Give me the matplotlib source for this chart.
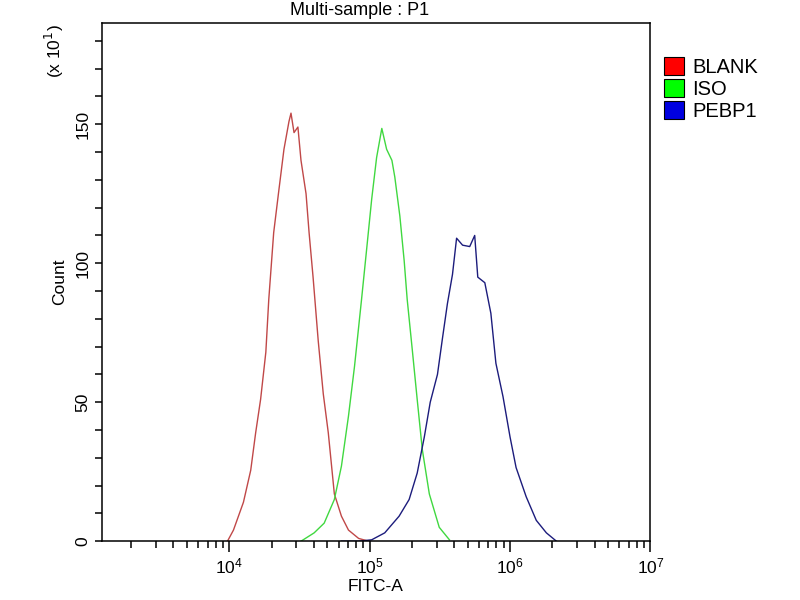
import matplotlib
matplotlib.use("Agg")
import matplotlib.pyplot as plt
from matplotlib.patches import Patch
from matplotlib.ticker import LogLocator, MultipleLocator, NullFormatter

plt.rcParams["font.family"] = ["Liberation Sans", "DejaVu Sans"]

# FITC-A intensity vs count (axis in units of x10^1)
blank_x = [9700, 10700, 12600, 14200, 15400, 16700, 18200, 19100, 20700, 22500,
           24500, 26600, 27500, 28900, 30800, 32400, 35200, 37000, 39500, 43000,
           46700, 50700, 56000, 62900, 70600, 83400, 98400]
blank_y = [0, 4, 14, 25.5, 39, 51, 68, 87, 111, 126,
           141, 151, 154, 147, 149, 137, 125, 111, 95, 72,
           53, 39, 17, 9, 4, 1, 0]

iso_x = [32400, 40200, 47400, 56000, 62900, 70600, 78000, 87500, 95100, 103300,
         112000, 122000, 132000, 144000, 151000, 164000, 176000, 185000, 201000,
         218000, 237000, 266000, 313000, 370000]
iso_y = [0, 3, 6.5, 15, 27, 45, 63, 87, 105, 123,
         138, 148.5, 141, 137, 131, 117, 101, 87, 69,
         51, 33, 17, 5, 0.5]

pebp1_x = [62900, 83400, 103300, 128000, 162000, 191000, 218000, 245000, 270000,
           304000, 330000, 358000, 389000, 416000, 459000, 516000, 560000, 589000,
           661000, 730000, 793000, 891000, 1000000, 1104000, 1303000, 1538000,
           1815000, 2140000]
pebp1_y = [0, 0, 0.5, 3, 9, 15, 24.5, 37.5, 50,
           60, 73, 85.5, 96, 109, 106.5, 106, 110, 95,
           93, 82, 64, 52, 37.5, 26.5, 16, 7.5,
           3, 0]

series = [
    ("BLANK", blank_x, blank_y, "#c04848", "#ff0000"),
    ("ISO", iso_x, iso_y, "#40d840", "#00ff00"),
    ("PEBP1", pebp1_x, pebp1_y, "#1c1c7c", "#0000e0"),
]

fig = plt.figure(figsize=(8, 6), dpi=100)
ax = fig.add_axes([0.127, 0.098, 0.686, 0.864])

for name, xs, ys, lc, _ in series:
    ax.plot(xs, ys, color=lc, lw=1.0)

ax.set_xscale("log")
ax.set_xlim(1230, 1e7)
ax.set_ylim(0, 186.5)

ax.xaxis.set_major_locator(LogLocator(base=10, numticks=10))
ax.xaxis.set_minor_locator(LogLocator(base=10, subs=range(2, 10), numticks=20))
ax.xaxis.set_minor_formatter(NullFormatter())
ax.yaxis.set_major_locator(MultipleLocator(50))
ax.yaxis.set_minor_locator(MultipleLocator(10))

ax.tick_params(axis="x", which="major", length=8, width=1.1, labelsize=12.5, pad=3)
ax.tick_params(axis="x", which="minor", length=5, width=1.1)
ax.tick_params(axis="y", which="both", length=5, width=1.1, labelsize=12.5, pad=3)
for lab in ax.get_yticklabels():
    lab.set_rotation(90)
    lab.set_va("center")
for sp in ax.spines.values():
    sp.set_linewidth(1.1)

ax.set_xlabel("FITC-A", fontsize=12.5, labelpad=2)
ax.set_ylabel("Count", fontsize=12.5, labelpad=6)
fig.text(0.45, 0.983, "Multi-sample : P1", ha="center", va="center", fontsize=13)
fig.text(0.068, 0.915, "(x 10$^{1}$)", rotation=90, ha="center", va="center",
         fontsize=12.5)

handles = [Patch(facecolor=fc, edgecolor="black", lw=0.8) for _, _, _, _, fc in series]
ax.legend(handles, [s[0] for s in series], loc="upper left",
          bbox_to_anchor=(1.01, 0.95), frameon=False, fontsize=14.5,
          handlelength=1.0, handleheight=1.0, handletextpad=0.4,
          labelspacing=0.1, borderaxespad=0.0)

fig.savefig("out.png", dpi=100)
